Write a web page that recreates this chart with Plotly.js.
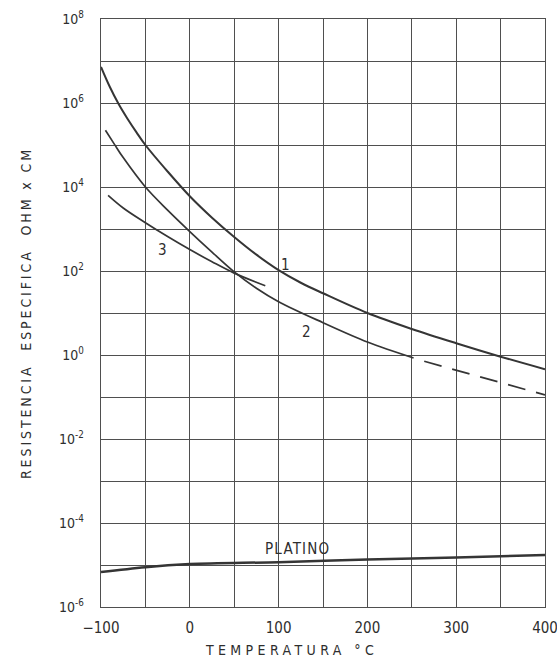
<!DOCTYPE html>
<html>
<head>
<meta charset="utf-8">
<script src="https://cdn.plot.ly/plotly-3.0.1.min.js"></script>
<style>
  html, body { margin: 0; padding: 0; background: #ffffff; }
  #chart { width: 557px; height: 664px; }
  .ytitle { letter-spacing: 2.9px; }
  .xtitle { letter-spacing: 4.4px; transform: translate(-31px, 0px); }
  .annotation-text { letter-spacing: 1.2px; }
</style>
</head>
<body>
<div id="chart"></div>
<script>
// Curve 1
const t1 = [-100, -90, -80, -70, -60, -50, -25, 0, 25, 50, 75, 100, 125, 150, 200, 250, 300, 350, 400];
const r1 = [7.24e6, 2.40e6, 9.33e5, 4.17e5, 2.0e5, 1.0e5, 2.34e4, 6.03e3, 1.86e3, 6.46e2, 2.45e2, 1.05e2, 5.25e1, 2.95e1, 1.0e1, 4.17e0, 1.91e0, 9.12e-1, 4.57e-1];
// Curve 2 (solid part)
const t2 = [-95, -85, -75, -50, -25, 0, 25, 50, 75, 100, 150, 200, 252];
const r2 = [2.24e5, 1.05e5, 5.01e4, 1.0e4, 2.82e3, 8.71e2, 2.82e2, 9.55e1, 3.89e1, 1.86e1, 5.89e0, 2.04e0, 8.51e-1];
// Curve 2 (dashed extrapolation)
const t2d = [264, 400];
const r2d = [7.08e-1, 1.12e-1];
// Curve 3
const t3 = [-92, -75, -50, -25, 0, 25, 50, 85];
const r3 = [6.31e3, 3.16e3, 1.41e3, 6.61e2, 3.24e2, 1.66e2, 8.91e1, 4.47e1];
// Platino
const tp = [-100, -50, 0, 100, 200, 300, 400];
const rp = [6.8e-6, 8.9e-6, 1.05e-5, 1.17e-5, 1.35e-5, 1.51e-5, 1.74e-5];

// Labelled ticks and extra (unlabelled) grid positions
const xTickVals = [-100, 0, 100, 200, 300, 400];
const xTickText = ['\u2212100', '0', '100', '200', '300', '400'];
const xGridVals = [-50, 50, 150, 250, 350];
const yTickExps = [-6, -4, -2, 0, 2, 4, 6, 8];
const yGridExps = [-5, -3, -1, 1, 3, 5, 7];
const yTickVals = yTickExps.map(e => Math.pow(10, e));
const yTickText = yTickExps.map(e => '10<sup>' + e + '</sup>');
const yGridVals = yGridExps.map(e => Math.pow(10, e));

const lineCol = '#353535';
const gridCol = '#4f4f4f';
const txtCol = '#2e2e2e';
const fam = '"DejaVu Sans Condensed", "DejaVu Sans", sans-serif';

const traces = [
  {x: t1, y: r1, mode: 'lines', line: {color: lineCol, width: 2, shape: 'spline', smoothing: 1}, name: '1'},
  {x: t2, y: r2, mode: 'lines', line: {color: lineCol, width: 1.7, shape: 'spline', smoothing: 1}, name: '2'},
  {x: t2d, y: r2d, mode: 'lines', line: {color: lineCol, width: 1.7, dash: '18px,11px'}, name: '2 ext'},
  {x: t3, y: r3, mode: 'lines', line: {color: lineCol, width: 1.7, shape: 'spline', smoothing: 1}, name: '3'},
  {x: tp, y: rp, mode: 'lines', line: {color: lineCol, width: 2.5, shape: 'spline'}, name: 'PLATINO'}
];

const layout = {
  width: 557, height: 664,
  margin: {l: 101, r: 12, t: 19, b: 57},
  paper_bgcolor: '#ffffff', plot_bgcolor: '#ffffff',
  showlegend: false,
  font: {family: fam, color: txtCol, size: 14},
  xaxis: {
    range: [-100, 400],
    tickmode: 'array', tickvals: xTickVals, ticktext: xTickText,
    showgrid: true, gridcolor: gridCol, gridwidth: 1,
    minor: {tickmode: 'array', tickvals: xGridVals, showgrid: true, gridcolor: gridCol, gridwidth: 1, ticks: ''},
    zeroline: false,
    showline: true, linecolor: gridCol, linewidth: 1.3, mirror: true,
    ticks: '', ticklabelstandoff: 7, ticklabeloverflow: 'allow',
    tickfont: {family: fam, size: 15, color: txtCol},
    title: {text: 'TEMPERATURA °C', font: {family: fam, size: 14, color: txtCol}, standoff: 9}
  },
  yaxis: {
    type: 'log',
    range: [-6, 8],
    tickmode: 'array', tickvals: yTickVals, ticktext: yTickText,
    showgrid: true, gridcolor: gridCol, gridwidth: 1,
    minor: {tickmode: 'array', tickvals: yGridVals, showgrid: true, gridcolor: gridCol, gridwidth: 1, ticks: ''},
    zeroline: false,
    showline: true, linecolor: gridCol, linewidth: 1.3, mirror: true,
    ticks: '', ticklabelstandoff: 13,
    tickfont: {family: fam, size: 14, color: txtCol},
    title: {text: 'RESISTENCIA  ESPECIFICA  OHM x CM', font: {family: fam, size: 14, color: txtCol}, standoff: 24}
  },
  annotations: [
    {x: 108, y: 2.14, text: '1', showarrow: false, font: {family: fam, size: 15, color: txtCol}},
    {x: 132, y: 0.55, text: '2', showarrow: false, font: {family: fam, size: 15, color: txtCol}},
    {x: -30, y: 2.5, text: '3', showarrow: false, font: {family: fam, size: 15, color: txtCol}},
    {x: 121, y: -4.62, text: 'PLATINO', showarrow: false, font: {family: fam, size: 15, color: txtCol}}
  ]
};

Plotly.newPlot('chart', traces, layout, {staticPlot: true, displayModeBar: false});
</script>
</body>
</html>
